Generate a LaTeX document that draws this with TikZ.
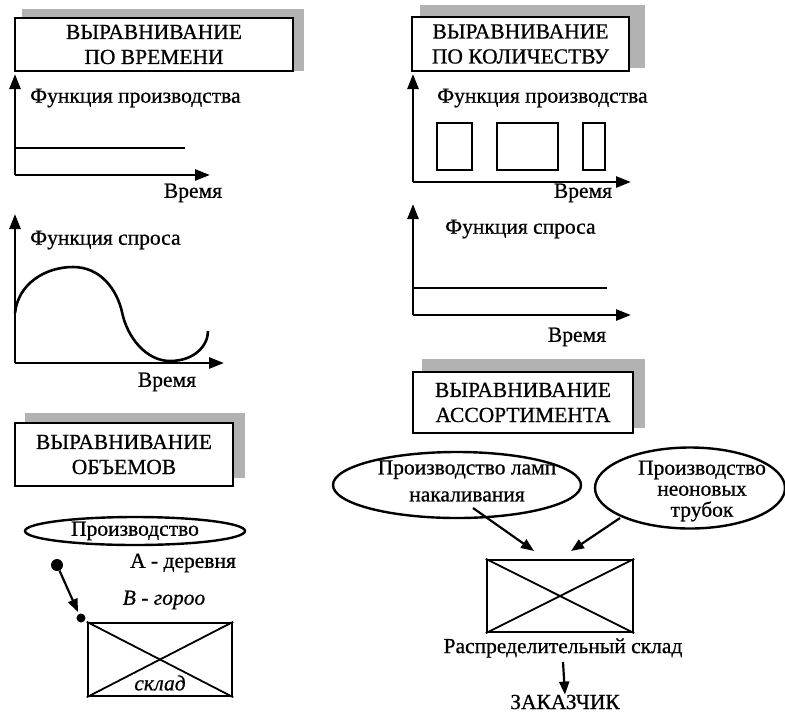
\documentclass[tikz,border=0pt]{standalone}
\usepackage{fontspec}
\setmainfont[FakeBold=0.7]{Liberation Serif}
\usetikzlibrary{arrows.meta,shapes.geometric}
\begin{document}
\begin{tikzpicture}[x=1pt,y=-1pt,
  ln/.style={line width=2.6pt},
  axarrow/.style={line width=2.6pt,-{Triangle[length=15pt,width=11pt]}},
  smarrow/.style={line width=2.2pt,-{Triangle[length=13pt,width=10pt]}},
  title/.style={draw,line width=2.4pt,fill=white,align=center,font=\fontsize{21.5}{25}\selectfont,inner sep=0pt},
  shadow/.style={fill=gray!60},
  lbl/.style={font=\fontsize{21.5}{22}\selectfont,inner sep=0pt},
  ell/.style={draw,ellipse,line width=2.4pt,align=center,inner sep=0pt,font=\fontsize{21.5}{21}\selectfont},
  dotc/.style={circle,fill=black,inner sep=0pt}
]
\useasboundingbox (0,0) rectangle (785,713);
% ---------- Box 1
\fill[shadow] (22,9) rectangle (304,71);
\node[title,minimum width=278pt,minimum height=53pt] (t1) at (154,44.5) {ВЫРАВНИВАНИЕ\\ПО ВРЕМЕНИ};
% chart 1
\coordinate (o1) at (15,175);
\coordinate (y1) at (15,74);
\coordinate (x1) at (210,175);
\draw[axarrow] (o1) -- (y1);
\draw[axarrow] (o1) -- (x1);
\coordinate (p1a) at (15,148);
\coordinate (p1b) at (185,148);
\draw[ln] (p1a) -- (p1b);
\node[lbl,anchor=west] (f1) at (30,98) {Функция производства};
\node[lbl] (v1) at (193,193) {Время};
% chart 2
\coordinate (o2) at (15,363);
\coordinate (y2) at (15,214);
\coordinate (x2) at (224,363);
\draw[axarrow] (o2) -- (y2);
\draw[axarrow] (o2) -- (x2);
\node[lbl,anchor=west] (f2) at (30,240) {Функция спроса};
\node[lbl] (v2) at (167,382) {Время};
\coordinate (c0) at (15,313);
\coordinate (c1) at (73,267);
\coordinate (c2) at (122,312);
\coordinate (c3) at (170,361);
\coordinate (c4) at (208,331);
\draw[ln] (c0) .. controls (18,284) and (45,267) .. (c1)
  .. controls (101,267) and (117,290) .. (c2)
  .. controls (127,337) and (146,361) .. (c3)
  .. controls (194,361) and (208,346) .. (c4);
% ---------- Box 3
\fill[shadow] (25,413) rectangle (245,478);
\node[title,minimum width=218pt,minimum height=63pt] (t3) at (124,454.5) {ВЫРАВНИВАНИЕ\\ОБЪЕМОВ};
\node[ell,minimum width=220pt,minimum height=28pt] (e0) at (135,531) {Производство};
\node[lbl] (a) at (183,563) {А - деревня};
\node[lbl,font=\fontsize{21.5}{22}\selectfont\itshape] (b) at (164,600) {В - гороо};
\node[dotc,minimum size=12pt] (d1) at (57,565) {};
\node[dotc,minimum size=9pt] (d2) at (81,618) {};
\coordinate (d2t) at (78,612);
\draw[smarrow] (d1) -- (d2t);
\node[draw,line width=2.4pt,minimum width=144pt,minimum height=73pt,inner sep=0pt] (s1) at (160,659.5) {};
\draw[line width=1.8pt] (s1.north west) -- (s1.south east);
\draw[line width=1.8pt] (s1.north east) -- (s1.south west);
\node[lbl,font=\fontsize{21.5}{22}\selectfont\itshape,fill=white,inner sep=1pt] (sk) at (160,683) {склад};
% ---------- Box 2
\fill[shadow] (420,5) rectangle (645,68);
\node[title,minimum width=217pt,minimum height=54pt] (t2) at (520.5,44) {ВЫРАВНИВАНИЕ\\ПО КОЛИЧЕСТВУ};
\coordinate (o3) at (413,182);
\coordinate (y3) at (413,74);
\coordinate (x3) at (631,182);
\draw[axarrow] (o3) -- (y3);
\draw[axarrow] (o3) -- (x3);
\node[lbl,anchor=west] (f3) at (437,98) {Функция производства};
\node[lbl] (v3) at (583,193) {Время};
\node[draw,line width=2.4pt,minimum width=35pt,minimum height=47pt,inner sep=0pt] (r1) at (454.5,146.5) {};
\node[draw,line width=2.4pt,minimum width=61pt,minimum height=47pt,inner sep=0pt] (r2) at (527.5,146.5) {};
\node[draw,line width=2.4pt,minimum width=22pt,minimum height=47pt,inner sep=0pt] (r3) at (594,146.5) {};
% chart 4
\coordinate (o4) at (413,315);
\coordinate (y4) at (413,204);
\coordinate (x4) at (631,315);
\draw[axarrow] (o4) -- (y4);
\draw[axarrow] (o4) -- (x4);
\coordinate (p4a) at (413,288);
\coordinate (p4b) at (607,288);
\draw[ln] (p4a) -- (p4b);
\node[lbl,anchor=west] (f4) at (445,229) {Функция спроса};
\node[lbl] (v4) at (577,337) {Время};
% ---------- Box 4
\fill[shadow] (422,359) rectangle (645,428);
\node[title,minimum width=220pt,minimum height=61pt] (t4) at (523,402.5) {ВЫРАВНИВАНИЕ\\АССОРТИМЕНТА};
\node[ell,minimum width=248pt,minimum height=66pt] (e1) at (457,485) {};
\node[lbl,align=center,font=\fontsize{21.5}{27}\selectfont] (e1t) at (467,481) {Производство ламп\\накаливания};
\node[ell,minimum width=190pt,minimum height=81pt] (e2) at (690,488) {};
\node[lbl,align=center,font=\fontsize{21.5}{21}\selectfont] (e2t) at (702,491) {Производство\\неоновых\\трубок};
\node[draw,line width=2.4pt,minimum width=146pt,minimum height=72pt,inner sep=0pt] (s2) at (560,596) {};
\draw[line width=1.8pt] (s2.north west) -- (s2.south east);
\draw[line width=1.8pt] (s2.north east) -- (s2.south west);
\coordinate (a1s) at (473,508);
\coordinate (a1e) at (534,551);
\coordinate (a2s) at (620,518);
\coordinate (a2e) at (571,551);
\draw[smarrow] (a1s) -- (a1e);
\draw[smarrow] (a2s) -- (a2e);
\node[lbl] (rs) at (563,648) {Распределительный склад};
\node[lbl] (zk) at (565,702) {ЗАКАЗЧИК};
\coordinate (zs) at (563,662);
\draw[smarrow] (zs) -- (zk.north);
\end{tikzpicture}
\end{document}
